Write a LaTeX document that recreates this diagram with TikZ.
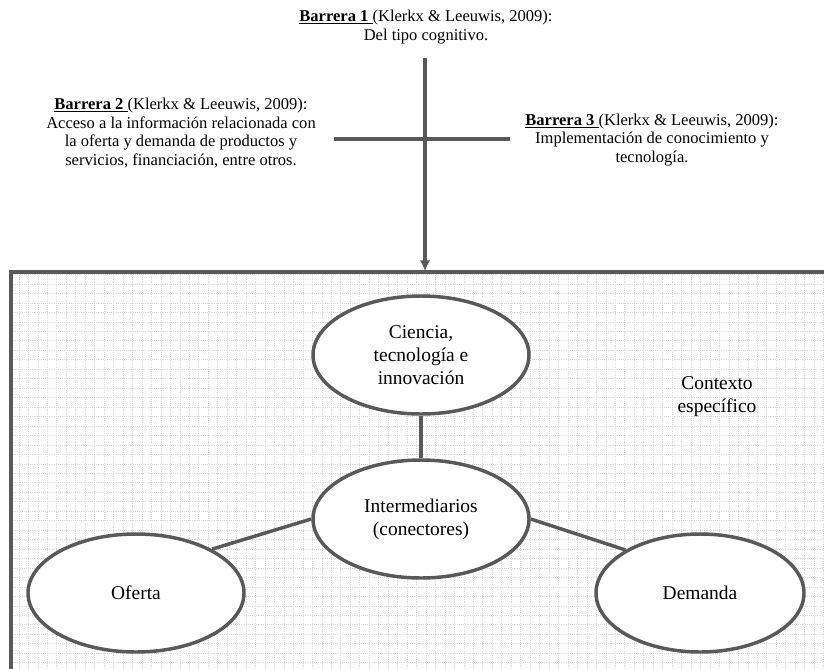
\documentclass[tikz,border=0pt]{standalone}
\usepackage{fontspec}
\setmainfont{Liberation Serif}
\usepackage{tikz}
\usetikzlibrary{shapes, arrows.meta, positioning}
\definecolor{linegray}{HTML}{595959}
\newcommand{\notetext}{\fontsize{12.4}{13.9}\selectfont}
\newcommand{\bubbletext}{\fontsize{14.6}{17.3}\selectfont}
\newcommand{\barrera}[1]{\underline{\textbf{Barrera #1}\ }(Klerkx \& Leeuwis, 2009):}
\tikzstyle{bubble} = [draw=linegray, ellipse, line width=2.6pt, fill=white, align=center, inner sep=0pt, font=\bubbletext, minimum width=162pt, minimum height=88.5pt]
\tikzstyle{note} = [align=center, inner sep=0pt, font=\notetext]
\tikzstyle{link} = [draw=linegray, line width=2.6pt]

\begin{document}
\begin{tikzpicture}[x=0.75pt,y=-0.75pt,>={Latex[length=8pt,width=8pt]}]
    \useasboundingbox (0,0) rectangle (824,668);
    \clip (0,0) rectangle (824,668);
    % contexto especifico (grid box)
    \fill [white] (11,272) rectangle (840,690);
    \draw [gray!30, line width=0.5pt, dash pattern=on 0.8pt off 0.8pt, step=7.1pt] (11,272) grid (840,690);
    \draw [linegray, line width=2.8pt] (11,272) rectangle (840,690);
    % barreras
    \node [note] (b1) at (426,27) {\barrera{1}\\Del tipo cognitivo.};
    \node [note] (b2) at (181,133) {\barrera{2}\\Acceso a la información relacionada con\\la oferta y demanda de productos y\\servicios, financiación, entre otros.};
    \node [note] (b3) at (652,140) {\barrera{3}\\Implementación de conocimiento y\\tecnología.};
    \coordinate (vtop) at (425,58);
    \coordinate (boxtop) at (425,271);
    \coordinate (hleft) at (334,139);
    \coordinate (hright) at (510,139);
    \draw [link, ->] (vtop) -- (boxtop);
    \draw [link] (hleft) -- (hright);
    % actores
    \node [bubble] (ciencia) at (421,355) {Ciencia,\\tecnología e\\innovación};
    \node [bubble] (inter) at (421,519) {Intermediarios\\(conectores)};
    \node [bubble] (oferta) at (136,593) {Oferta};
    \node [bubble, minimum width=156pt] (demanda) at (700,593) {Demanda};
    \node [note, font=\bubbletext] (contexto) at (717,397) {Contexto\\específico};
    \draw [link] (ciencia) -- (inter);
    \draw [link] (inter.west) -- (oferta.30);
    \draw [link] (inter.east) -- (demanda.150);
\end{tikzpicture}
\end{document}
